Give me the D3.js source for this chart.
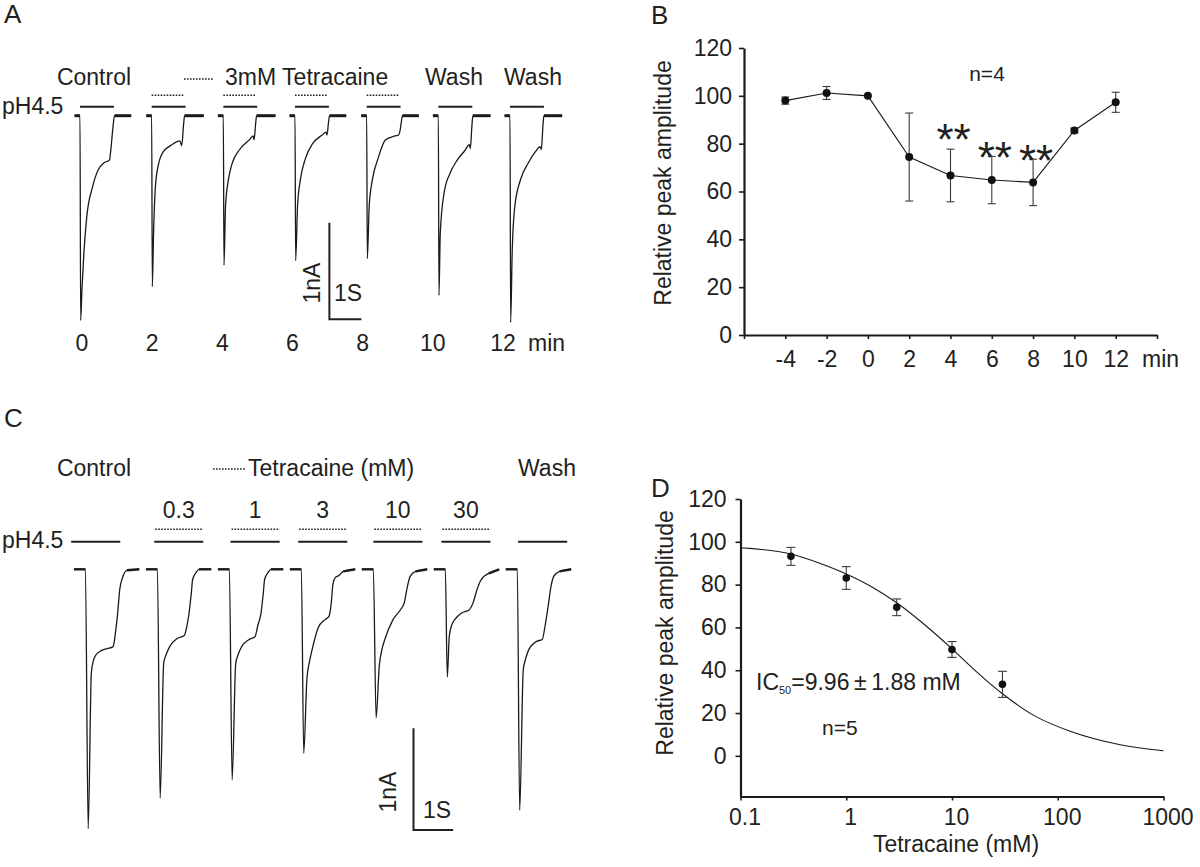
<!DOCTYPE html>
<html>
<head>
<meta charset="utf-8">
<script src="https://cdn.jsdelivr.net/npm/d3@7"></script>
<style>
  body { margin: 0; background: #fff; }
  text { font-family: "Liberation Sans", Arial, Helvetica, sans-serif; fill: #231f20; }
</style>
</head>
<body>
<script>
// ---------- panel A : 3 mM tetracaine, one sweep every 2 min ----------
var sweepMinA = [0, 2, 4, 6, 8, 10, 12]
var tetraA = [false, true, true, true, true, false, false]
// time (s, from acid onset) , current (nA)
var tracesA = [
  [[-0.17, 0], [0, 0], [0.02, -2.12], [0.06, -1.81], [0.12, -1.43], [0.21, -1.05], [0.39, -0.74], [0.57, -0.56], [0.74, -0.49], [0.92, -0.46], [0.97, -0.33], [1.03, -0.12], [1.08, 0], [1.6, 0]],
  [[-0.17, 0], [0, 0], [0.02, -1.77], [0.06, -1.2], [0.12, -0.72], [0.23, -0.48], [0.35, -0.38], [0.59, -0.31], [0.88, -0.26], [0.94, -0.31], [1.0, -0.08], [1.03, 0], [1.63, 0]],
  [[-0.17, 0], [0, 0], [0.02, -1.55], [0.07, -0.93], [0.16, -0.66], [0.28, -0.49], [0.51, -0.35], [0.81, -0.25], [0.93, -0.21], [0.96, -0.25], [1.01, -0.08], [1.04, 0], [1.63, 0]],
  [[-0.17, 0], [0, 0], [0.02, -1.5], [0.08, -0.93], [0.17, -0.66], [0.32, -0.45], [0.55, -0.29], [0.85, -0.2], [0.97, -0.17], [1.0, -0.2], [1.05, -0.06], [1.08, 0], [1.6, 0]],
  [[-0.17, 0], [0, 0], [0.02, -1.48], [0.08, -0.93], [0.18, -0.66], [0.35, -0.45], [0.59, -0.25], [0.88, -0.21], [1.0, -0.2], [1.04, -0.16], [1.09, -0.05], [1.12, 0], [1.63, 0]],
  [[-0.17, 0], [0, 0], [0.02, -1.86], [0.06, -1.22], [0.18, -0.8], [0.36, -0.6], [0.59, -0.46], [0.83, -0.36], [0.97, -0.3], [1.0, -0.34], [1.05, -0.1], [1.08, 0], [1.63, 0]],
  [[-0.17, 0], [0, 0], [0.02, -2.14], [0.07, -1.39], [0.15, -0.94], [0.33, -0.66], [0.57, -0.49], [0.8, -0.37], [0.94, -0.32], [0.98, -0.35], [1.03, -0.1], [1.06, 0], [1.63, 0]]
]
var acidDurA = 1.06

// ---------- panel B : time course ----------
var timeB = [-4, -2, 0, 2, 4, 6, 8, 10, 12]
var meanB = [98, 101.2, 100, 74.4, 66.7, 64.8, 63.8, 85.5, 97.3]
var semB = [1.5, 2.7, 0, 18.4, 11, 9.9, 9.7, 1, 4.2]
var starTimeB = [4, 6, 8]
var starLevelB = [85.7, 78.2, 76.9]

// ---------- panel C : concentration series ----------
var concLabelsC = ['', '0.3', '1', '3', '10', '30', '']
var tracesC = [
  [[-0.29, 0], [0, 0], [0.07, -2.55], [0.15, -1.02], [0.2, -0.9], [0.27, -0.84], [0.4, -0.8], [0.55, -0.78], [0.7, -0.76], [0.76, -0.62], [0.81, -0.45], [0.87, -0.19], [0.93, -0.09], [1.05, -0.01], [1.36, 0]],
  [[-0.29, 0], [0, 0], [0.07, -2.25], [0.16, -0.92], [0.22, -0.84], [0.31, -0.76], [0.5, -0.68], [0.68, -0.65], [0.75, -0.55], [0.8, -0.43], [0.86, -0.22], [0.89, -0.1], [0.98, -0.03], [1.05, 0], [1.36, 0]],
  [[-0.29, 0], [0, 0], [0.07, -2.07], [0.16, -0.93], [0.22, -0.84], [0.31, -0.76], [0.5, -0.69], [0.65, -0.66], [0.72, -0.55], [0.8, -0.43], [0.86, -0.22], [0.89, -0.1], [0.98, -0.03], [1.05, 0], [1.36, 0]],
  [[-0.29, 0], [0, 0], [0.06, -1.81], [0.14, -1.08], [0.21, -0.9], [0.29, -0.76], [0.43, -0.57], [0.58, -0.5], [0.7, -0.46], [0.75, -0.35], [0.8, -0.14], [0.86, -0.08], [0.95, -0.06], [1.06, -0.02], [1.36, 0]],
  [[-0.29, 0], [0, 0], [0.07, -1.46], [0.15, -0.95], [0.21, -0.8], [0.29, -0.69], [0.49, -0.5], [0.68, -0.4], [0.78, -0.33], [0.86, -0.17], [0.93, -0.07], [1.07, -0.02], [1.36, 0]],
  [[-0.29, 0], [0, 0], [0.05, -1.06], [0.1, -0.66], [0.16, -0.55], [0.25, -0.49], [0.41, -0.43], [0.6, -0.4], [0.7, -0.33], [0.8, -0.2], [0.88, -0.12], [0.95, -0.08], [1.1, -0.04], [1.36, 0]],
  [[-0.29, 0], [0, 0], [0.06, -2.37], [0.15, -0.99], [0.21, -0.88], [0.29, -0.79], [0.48, -0.71], [0.63, -0.69], [0.7, -0.56], [0.78, -0.36], [0.85, -0.17], [0.92, -0.07], [1.07, -0.02], [1.36, 0]]
]
var acidOnC = [-0.36, -0.08, 0.03, -0.08, 0, -0.1, 0.02]
var acidDurC = 1.24

// ---------- panel D : dose response ----------
var concD = [0.3, 1, 3, 10, 30]
var meanD = [93.2, 83.1, 69.4, 49.7, 33.4]
var semD = [4.2, 5.3, 3.9, 3.7, 6.1]
var fitConcD = [0.1, 0.3, 0.56, 1, 1.67, 3, 5, 10, 16, 30, 63, 131, 390, 1000]
var fitRespD = [97.2, 94.3, 90, 85, 79.5, 71.5, 63, 50, 40.5, 29, 18.2, 11.5, 5.2, 2.4]

var fs = 23

var main = d3.select('body')
  .append('svg')
  .attr('width', 1200)
  .attr('height', 867)

function txt (x, y, s, size, anchor) {
  return main.append('text')
    .attr('x', x)
    .attr('y', y)
    .attr('font-size', size || fs)
    .attr('text-anchor', anchor || 'start')
    .text(s)
}

function dotted (x1, x2, y) {
  main.append('line')
    .attr('x1', x1).attr('x2', x2).attr('y1', y).attr('y2', y)
    .attr('stroke', '#231f20')
    .attr('stroke-width', 1.6)
    .attr('stroke-dasharray', '1.6,1.4')
}

function solid (x1, x2, y) {
  main.append('line')
    .attr('x1', x1).attr('x2', x2).attr('y1', y).attr('y2', y)
    .attr('stroke', '#231f20')
    .attr('stroke-width', 2)
}

function drawSweeps (traces, posX, t, amp, thick) {
  var line = d3.line()
    .x(d => t(d[0]))
    .y(d => amp(d[1]))
    .curve(d3.curveMonotoneX)

  var sweeps = main.selectAll(null)
    .data(traces)
    .enter()
    .append('g')
      .attr('transform', (_, i) => `translate(${posX(i)},0)`)

  sweeps.append('path')
    .attr('d', line)
    .attr('fill', 'none')
    .attr('stroke', '#1a1a1a')
    .attr('stroke-width', 1.3)

  // noisy holding current looks thicker
  sweeps.append('path')
    .attr('d', d => d3.line().x(p => t(p[0])).y(p => amp(p[1]))(d.slice(0, 2)))
    .attr('stroke', '#1a1a1a')
    .attr('stroke-width', thick)
  sweeps.append('path')
    .attr('d', d => d3.line().x(p => t(p[0])).y(p => amp(p[1]))(d.slice(-2)))
    .attr('stroke', '#1a1a1a')
    .attr('stroke-width', thick)
}

function scaleBar (t, amp, x0, y0, s1, s2, lx, ly, sx, sy) {
  var h = amp(-1) - amp(0)
  var w = t(1) - t(0)
  main.append('path')
    .attr('d', `M${x0},${y0 - h}V${y0}H${x0 + w}`)
    .attr('fill', 'none')
    .attr('stroke', '#231f20')
    .attr('stroke-width', 2)
  main.append('text')
    .attr('transform', `translate(${lx},${ly}) rotate(-90)`)
    .attr('text-anchor', 'middle')
    .attr('font-size', fs)
    .text(s1)
  txt(sx, sy, s2, fs, 'middle')
}

// ===================== A =====================
txt(4, 23, 'A', 26)
var tA = d3.scaleLinear().domain([0, 1]).range([0, 32])
var ampA = d3.scaleLinear().domain([0, -1]).range([115.7, 212.3])
var sweepX_A = d3.scaleLinear().domain([0, 12]).range([80, 510])
var labelX_A = d3.scaleLinear().domain([0, 12]).range([82, 503])

drawSweeps(tracesA, i => sweepX_A(sweepMinA[i]), tA, ampA, 3)

sweepMinA.forEach(function (m, i) {
  var x0 = sweepX_A(m) + tA(0)
  solid(x0, x0 + tA(acidDurA), 106.7)
  if (tetraA[i]) dotted(x0, x0 + tA(acidDurA) - 2, 95.3)
  txt(labelX_A(m), 350.5, String(m), fs, 'middle')
})
txt(528, 350.5, 'min')
txt(2, 113.5, 'pH4.5')
txt(94, 85, 'Control', fs, 'middle')
dotted(184, 214, 79)
txt(225, 85, '3mM Tetracaine')
txt(454, 85, 'Wash', fs, 'middle')
txt(533, 85, 'Wash', fs, 'middle')
scaleBar(tA, ampA, 329.4, 319.3, '1nA', '1S', 320, 283, 348, 301)

// ===================== B =====================
txt(651, 24, 'B', 26)
var xB = d3.scaleLinear().domain([-6, 14]).range([744, 1157])
var yB = d3.scaleLinear().domain([0, 120]).range([335, 48])

var axB = main.append('g')
axB.append('g')
  .attr('transform', 'translate(0,335)')
  .call(d3.axisBottom(xB).tickValues(d3.range(-6, 15, 2)).tickSize(4).tickSizeOuter(0).tickPadding(12)
    .tickFormat(d => (d === -6 || d === 14) ? '' : String(d)))
axB.append('g')
  .attr('transform', 'translate(744,0)')
  .call(d3.axisLeft(yB).tickValues(d3.range(0, 121, 20)).tickSize(5).tickSizeOuter(0).tickPadding(7))
txt(1142, 367, 'min')
main.append('text')
  .attr('transform', 'translate(671,183) rotate(-90)')
  .attr('text-anchor', 'middle')
  .attr('font-size', fs)
  .text('Relative peak amplitude')
txt(987, 81, 'n=4', 21, 'middle')

var ptsB = timeB.map((t, i) => ({ t: t, m: meanB[i], e: semB[i] }))
main.append('path')
  .datum(ptsB)
  .attr('d', d3.line().x(d => xB(d.t)).y(d => yB(d.m)))
  .attr('fill', 'none')
  .attr('stroke', '#1a1a1a')
  .attr('stroke-width', 1.1)

var errB = main.selectAll(null).data(ptsB.filter(d => d.e > 0)).enter().append('g')
  .attr('stroke', '#3a3a3a').attr('stroke-width', 1.1)
errB.append('line')
  .attr('x1', d => xB(d.t)).attr('x2', d => xB(d.t))
  .attr('y1', d => yB(d.m + d.e)).attr('y2', d => yB(d.m - d.e))
errB.append('line')
  .attr('x1', d => xB(d.t) - 4).attr('x2', d => xB(d.t) + 4)
  .attr('y1', d => yB(d.m + d.e)).attr('y2', d => yB(d.m + d.e))
errB.append('line')
  .attr('x1', d => xB(d.t) - 4).attr('x2', d => xB(d.t) + 4)
  .attr('y1', d => yB(d.m - d.e)).attr('y2', d => yB(d.m - d.e))

main.selectAll(null).data(ptsB).enter().append('circle')
  .attr('cx', d => xB(d.t)).attr('cy', d => yB(d.m)).attr('r', 4)
  .attr('fill', '#111')

main.selectAll(null).data(starTimeB).enter().append('text')
  .attr('x', d => xB(d) + 3)
  .attr('y', (d, i) => yB(starLevelB[i]) + 25)
  .attr('text-anchor', 'middle')
  .attr('font-size', 44)
  .text('**')

// ===================== C =====================
txt(4, 427, 'C', 26)
var tC = d3.scaleLinear().domain([0, 1]).range([0, 39.6])
var ampC = d3.scaleLinear().domain([0, -1]).range([569.3, 671])
var sweepX_C = d3.scaleLinear().domain([0, 6]).range([85.4, 517.3])

drawSweeps(tracesC, sweepX_C, tC, ampC, 2.4)

tracesC.forEach(function (_, i) {
  var x0 = sweepX_C(i) + tC(acidOnC[i])
  var x1 = x0 + tC(acidDurC)
  solid(x0, x1, 541.7)
  if (concLabelsC[i]) {
    dotted(x0 + 1, x1, 529.3)
    txt((x0 + x1) / 2, 518, concLabelsC[i], fs, 'middle')
  }
})
txt(2, 548.3, 'pH4.5')
txt(94, 476, 'Control', fs, 'middle')
dotted(213, 246, 469)
txt(248, 476, 'Tetracaine (mM)')
txt(547, 476, 'Wash', fs, 'middle')
scaleBar(tC, ampC, 413.5, 830, '1nA', '1S', 396, 792, 437, 818)

// ===================== D =====================
txt(651, 497, 'D', 26)
var xD = d3.scaleLog().domain([0.1, 1000]).range([740.5, 1163.5])
var yD = d3.scaleLinear().domain([-19, 120]).range([796.5, 499])

var axD = main.append('g')
axD.append('g')
  .attr('transform', 'translate(0,796.5)')
  .call(d3.axisBottom(xD).tickValues([0.1, 1, 10, 100, 1000]).tickSize(4).tickSizeOuter(0).tickPadding(8)
    .tickFormat(d => String(d)))
axD.append('g')
  .attr('transform', 'translate(740.5,0)')
  .call(d3.axisLeft(yD).tickValues(d3.range(0, 121, 20)).tickSize(5).tickSizeOuter(0).tickPadding(9))
axD.selectAll('.tick text').filter(function () { return this.parentNode.parentNode.getAttribute('transform') === 'translate(0,796.5)' })
  .attr('dx', 4)
main.append('text')
  .attr('transform', 'translate(673,633) rotate(-90)')
  .attr('text-anchor', 'middle')
  .attr('font-size', fs)
  .text('Relative peak amplitude')
txt(956, 852, 'Tetracaine (mM)', fs, 'middle')

var ic = main.append('text').attr('x', 756).attr('y', 690).attr('font-size', fs)
ic.append('tspan').text('IC')
ic.append('tspan').attr('font-size', 11).attr('dy', 4).text('50')
ic.append('tspan').attr('dy', -4).text('=9.96\u2009\u00b1\u20091.88 mM')
txt(822, 735, 'n=5', 21)

main.append('path')
  .datum(fitConcD.map((c, i) => [c, fitRespD[i]]))
  .attr('d', d3.line().x(d => xD(d[0])).y(d => yD(d[1])).curve(d3.curveMonotoneX))
  .attr('fill', 'none')
  .attr('stroke', '#1a1a1a')
  .attr('stroke-width', 1.1)

var ptsD = concD.map((c, i) => ({ c: c, m: meanD[i], e: semD[i] }))
var errD = main.selectAll(null).data(ptsD).enter().append('g')
  .attr('stroke', '#3a3a3a').attr('stroke-width', 1.1)
errD.append('line')
  .attr('x1', d => xD(d.c)).attr('x2', d => xD(d.c))
  .attr('y1', d => yD(d.m + d.e)).attr('y2', d => yD(d.m - d.e))
errD.append('line')
  .attr('x1', d => xD(d.c) - 4.5).attr('x2', d => xD(d.c) + 4.5)
  .attr('y1', d => yD(d.m + d.e)).attr('y2', d => yD(d.m + d.e))
errD.append('line')
  .attr('x1', d => xD(d.c) - 4.5).attr('x2', d => xD(d.c) + 4.5)
  .attr('y1', d => yD(d.m - d.e)).attr('y2', d => yD(d.m - d.e))
main.selectAll(null).data(ptsD).enter().append('circle')
  .attr('cx', d => xD(d.c)).attr('cy', d => yD(d.m)).attr('r', 3.8)
  .attr('fill', '#111')

// shared axis styling
main.selectAll('.domain').attr('stroke', '#1a1a1a').attr('stroke-width', 2.2)
main.selectAll('.tick line').attr('stroke', '#1a1a1a').attr('stroke-width', 1.6)
main.selectAll('.tick text').attr('font-size', fs).attr('fill', '#231f20')
  .attr('font-family', '"Liberation Sans", Arial, Helvetica, sans-serif')
</script>
</body>
</html>
